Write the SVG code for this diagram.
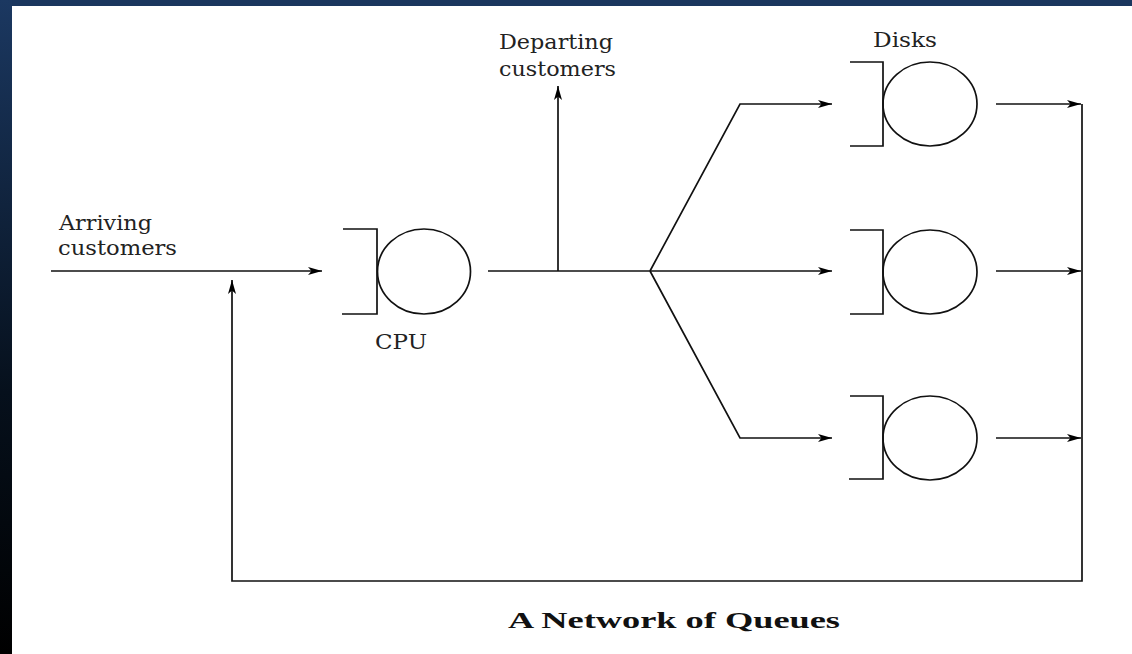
<svg xmlns="http://www.w3.org/2000/svg" width="1132" height="654" viewBox="0 0 1132 654">
<defs>
<linearGradient id="band" x1="0" y1="0" x2="0" y2="1">
<stop offset="0" stop-color="#1b3861"/>
<stop offset="0.6" stop-color="#06101c"/>
<stop offset="1" stop-color="#000000"/>
</linearGradient>
<marker id="arr" markerUnits="userSpaceOnUse" markerWidth="16" markerHeight="10" refX="14" refY="5" orient="auto">
<path d="M0,1 L14,5 L0,9 L3.5,5 z" fill="#000"/>
</marker>
<style>
.ln{fill:none;stroke:#111;stroke-width:1.7}
.arw{fill:none;stroke:#111;stroke-width:1.7;marker-end:url(#arr)}
.srv{fill:none;stroke:#111;stroke-width:1.7}
.lbl{font-family:"DejaVu Serif","Liberation Serif",serif;font-size:21px;fill:#222}
.ttl{font-family:"Liberation Serif","Times New Roman",serif;font-size:24px;font-weight:bold;fill:#111}
</style>
</defs>
<rect x="0" y="0" width="1132" height="654" fill="#fff"/>
<rect x="0" y="0" width="1132" height="6" fill="#1a365e"/>
<rect x="0" y="0" width="12" height="654" fill="url(#band)"/>

<g id="connectors">
<path class="arw" d="M51,271 L322,271"/>
<path class="arw" d="M1082,104 L1082,581 L232,581 L232,280"/>
<path class="ln" d="M488,271 L650,271"/>
<path class="arw" d="M558,271 L558,86"/>
<path class="arw" d="M650,271 L740,104 L832,104"/>
<path class="arw" d="M650,271 L832,271"/>
<path class="arw" d="M650,271 L740,438 L832,438"/>
<path class="arw" d="M996,104 L1081,104"/>
<path class="arw" d="M996,271 L1081,271"/>
<path class="arw" d="M996,438 L1081,438"/>
</g>

<g id="arriving">
<text class="lbl" x="59" y="230" textLength="93" lengthAdjust="spacingAndGlyphs">Arriving</text>
<text class="lbl" x="58" y="255" textLength="119" lengthAdjust="spacingAndGlyphs">customers</text>
</g>

<g id="departing">
<text class="lbl" x="499" y="49" textLength="114" lengthAdjust="spacingAndGlyphs">Departing</text>
<text class="lbl" x="499" y="76" textLength="117" lengthAdjust="spacingAndGlyphs">customers</text>
</g>

<g id="cpu">
<path class="srv" d="M343,229 L377,229 L377,314 L342,314"/>
<ellipse class="srv" cx="424" cy="271.5" rx="46.5" ry="42.5"/>
<text class="lbl" x="375" y="349" textLength="52" lengthAdjust="spacingAndGlyphs">CPU</text>
</g>

<g id="disks-label">
<text class="lbl" x="873" y="47" textLength="64" lengthAdjust="spacingAndGlyphs">Disks</text>
</g>

<g id="disk1">
<path class="srv" d="M850,62 L883,62 L883,146 L850,146"/>
<ellipse class="srv" cx="930" cy="104" rx="47" ry="42"/>
</g>

<g id="disk2">
<path class="srv" d="M850,230 L883,230 L883,314 L850,314"/>
<ellipse class="srv" cx="930" cy="272" rx="47" ry="42"/>
</g>

<g id="disk3">
<path class="srv" d="M850,396 L883,396 L883,479 L849,479"/>
<ellipse class="srv" cx="930" cy="438" rx="47" ry="42"/>
</g>

<g id="title">
<text class="ttl" x="508" y="628" textLength="332" lengthAdjust="spacingAndGlyphs">A Network of Queues</text>
</g>
</svg>
